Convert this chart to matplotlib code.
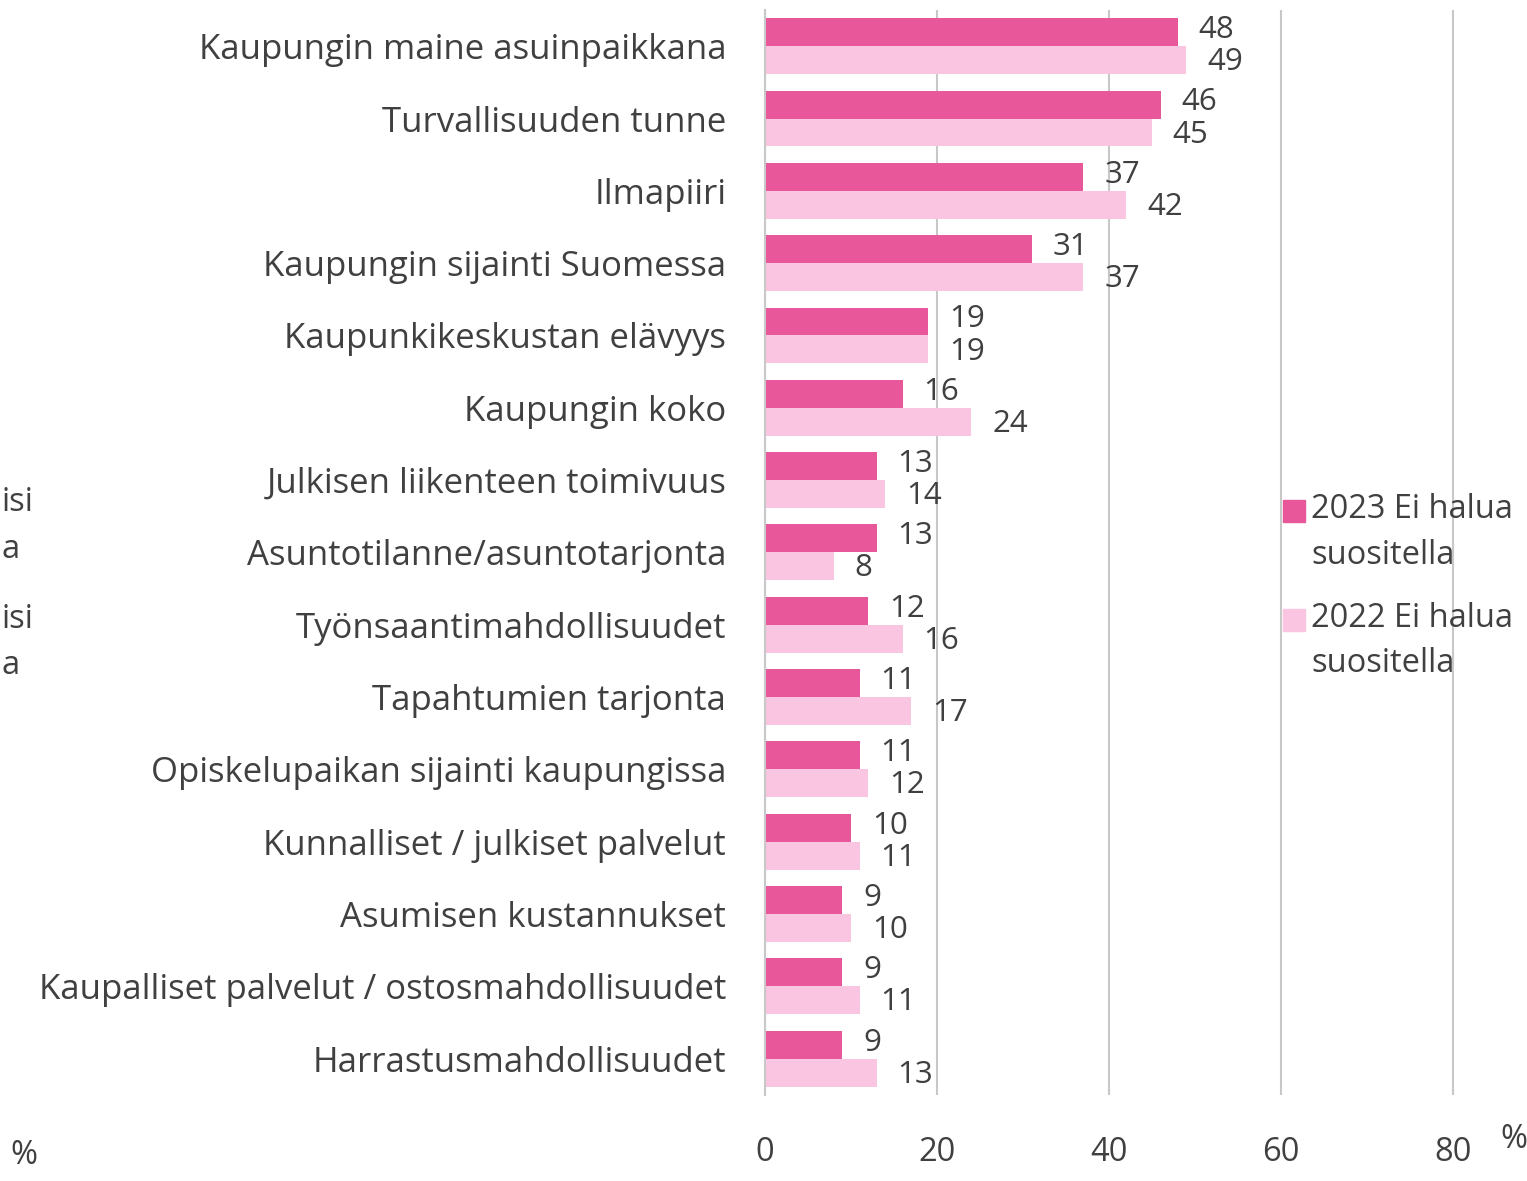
import matplotlib.pyplot as plt
import matplotlib.patches as mpatches
import numpy as np

plt.rcParams['font.family'] = ['Open Sans', 'DejaVu Sans']

categories = [
    'Kaupungin maine asuinpaikkana',
    'Turvallisuuden tunne',
    'Ilmapiiri',
    'Kaupungin sijainti Suomessa',
    'Kaupunkikeskustan elävyys',
    'Kaupungin koko',
    'Julkisen liikenteen toimivuus',
    'Asuntotilanne/asuntotarjonta',
    'Työnsaantimahdollisuudet',
    'Tapahtumien tarjonta',
    'Opiskelupaikan sijainti kaupungissa',
    'Kunnalliset / julkiset palvelut',
    'Asumisen kustannukset',
    'Kaupalliset palvelut / ostosmahdollisuudet',
    'Harrastusmahdollisuudet',
]
values_2023 = [48, 46, 37, 31, 19, 16, 13, 13, 12, 11, 11, 10, 9, 9, 9]
values_2022 = [49, 45, 42, 37, 19, 24, 14, 8, 16, 17, 12, 11, 10, 11, 13]
series_names = ['2023 Ei halua\nsuositella', '2022 Ei halua\nsuositella']
xticks = [0, 20, 40, 60, 80]

c2023 = '#E9579B'
c2022 = '#FAC5E0'
txt = '#404040'
fs = 23.5

fig = plt.figure(figsize=(15.27, 11.81), dpi=100)
ax = fig.add_axes([0.501, 0.073, 0.499, 0.9185])

y = np.arange(len(categories))
h = 0.386
b1 = ax.barh(y - h / 2, values_2023, height=h, color=c2023, zorder=2)
b2 = ax.barh(y + h / 2, values_2022, height=h, color=c2022, zorder=2)

# value labels; nudge the pair apart a little so they don't collide
for bars, vals, dy in [(b1, values_2023, 1.5), (b2, values_2022, -1.5)]:
    for bar, v in zip(bars, vals):
        ax.annotate(str(v), (v, bar.get_y() + bar.get_height() / 2),
                    xytext=(15, dy), textcoords='offset points',
                    va='center', ha='left', fontsize=22.5, color=txt)

ax.set_ylim(len(categories) - 0.5, -0.5)
ax.set_xlim(0, 88.6)
ax.set_yticks(y)
ax.set_yticklabels(categories, fontsize=25, color=txt)
ax.set_xticks(xticks)
ax.set_xticklabels([str(t) for t in xticks], fontsize=fs, color=txt)
ax.tick_params(axis='y', length=0, pad=28)
ax.tick_params(axis='x', length=0, pad=30)
ax.xaxis.grid(True, color='#C8C8C8', linewidth=1.5, zorder=0)
for s in ['top', 'right', 'bottom']:
    ax.spines[s].set_visible(False)
ax.spines['left'].set_color('#C8C8C8')
ax.spines['left'].set_linewidth(1.5)

# legend drawn by hand (no frame, sits over the plot)
W, H = 1527, 1181
for color, name, ytop in [(c2023, series_names[0], 511), (c2022, series_names[1], 620)]:
    fig.patches.append(mpatches.Rectangle((1283 / W, 1 - (ytop + 11) / H), 22 / W, 22 / H,
                                          transform=fig.transFigure, color=color, zorder=5))
    fig.text(1311 / W, 1 - (ytop - 18) / H, name, fontsize=fs, color=txt,
             va='top', ha='left', linespacing=1.5)

# fragments of a neighbouring chart at the picture edges
fig.text(0.001, 1 - 503 / H, 'isi', fontsize=fs, color=txt, va='center', ha='left')
fig.text(0.001, 1 - 549 / H, 'a', fontsize=fs, color=txt, va='center', ha='left')
fig.text(0.001, 1 - 620 / H, 'isi', fontsize=fs, color=txt, va='center', ha='left')
fig.text(0.001, 1 - 665 / H, 'a', fontsize=fs, color=txt, va='center', ha='left')
fig.text(10 / W, 1 - 1155 / H, '%', fontsize=fs, color=txt, va='center', ha='left')
fig.text(1500 / W, 1 - 1140 / H, '%', fontsize=fs, color=txt, va='center', ha='left')

plt.savefig('out.png', dpi=100)
